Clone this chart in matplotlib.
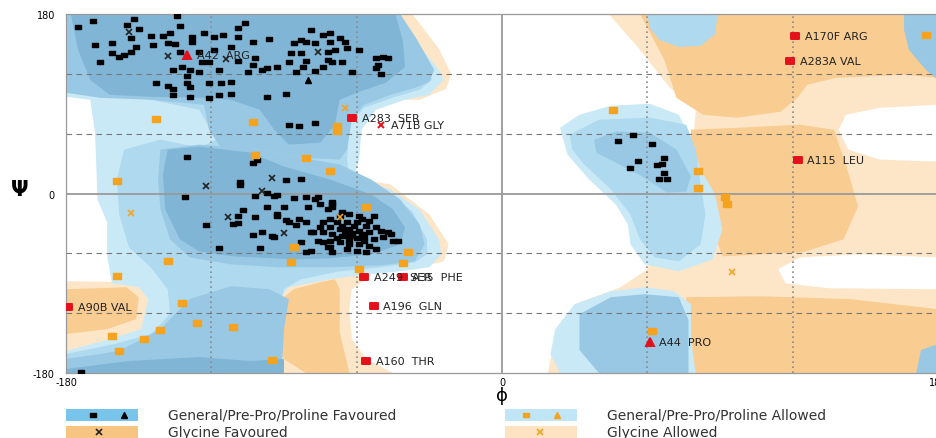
import numpy as np
import matplotlib.pyplot as plt
from matplotlib.path import Path

# ---- contour regions, (phi, psi) vertices in degrees ----
gly_allowed_right = [(44, 180), (180, 180), (180, -64), (148, -61), (123, -64), (114, -76), (117, -90),
                     (135, -95), (180, -96), (180, -180), (19, -180), (22, -141), (30, -111), (49, -94),
                     (60, -76), (65, -36), (78, 24), (80, 84), (69, 107), (57, 144)]
gly_allowed_top = [(-50, 180), (-37, 180), (-26, 145), (-21, 120), (-23, 105), (-34, 94), (-44, 94)]
gly_allowed_alpha = [(-63, 16), (-46, 9), (-30, -21), (-22, -51), (-24, -68), (-34, -74), (-42, -74)]
gly_allowed_bottom = [(-98, -101), (-83, -88), (-67, -82), (-54, -82), (-62, -96), (-63, -116),
                      (-62, -146), (-56, -166), (-45, -180), (-98, -180)]
gly_allowed_left = [(-180, -88), (-149, -89), (-145, -106), (-147, -136), (-162, -152), (-180, -169)]
empty_bay_right = [(139, 64), (142, 79), (156, 86), (180, 89), (180, 32), (156, 34), (143, 44)]

gly_fav_top = [(57, 180), (180, 180), (180, 116), (166, 119), (138, 116), (126, 109), (122, 96),
               (115, 82), (97, 76), (83, 79), (72, 96), (67, 134)]
gly_fav_mid = [(78, 64), (98, 66), (123, 69), (137, 64), (142, 29), (147, -13), (141, -46), (124, -59),
               (91, -63), (87, -36), (82, -6), (78, 34)]
gly_fav_low = [(76, -104), (107, -103), (144, -106), (180, -116), (180, -180), (78, -180)]
gly_fav_bottom = [(-86, -96), (-75, -89), (-69, -86), (-67, -96), (-67, -139), (-63, -180), (-81, -180),
                  (-90, -166), (-94, -146), (-95, -123), (-91, -106)]
gly_fav_left = [(-180, -96), (-155, -94), (-150, -104), (-151, -126), (-163, -136), (-180, -141)]

gen_allowed_outer = [(-180, 180), (-48, 180), (-38, 159), (-26, 124), (-24, 114), (-30, 99), (-40, 94),
                     (-52, 84), (-58, 64), (-59, 34), (-61, 16), (-46, 4), (-34, -16), (-26, -46),
                     (-25, -61), (-30, -74), (-42, -78), (-59, -82), (-71, -86), (-88, -94), (-92, -106),
                     (-94, -136), (-91, -180), (-180, -180), (-180, -158), (-162, -146), (-149, -136),
                     (-146, -106), (-150, -94), (-161, -90), (-163, -63), (-163, -29), (-167, -6),
                     (-168, 61), (-170, 94), (-180, 97)]
gen_allowed = [(-180, 180), (-50, 180), (-40, 159), (-30, 129), (-29, 114), (-34, 104), (-44, 97),
               (-57, 86), (-63, 69), (-64, 34), (-63, 16), (-48, 2), (-37, -18), (-31, -46), (-31, -61),
               (-36, -69), (-50, -74), (-67, -78), (-83, -86), (-90, -96), (-92, -116), (-92, -180),
               (-180, -180), (-180, -161), (-160, -151), (-145, -141), (-137, -121), (-138, -96),
               (-145, -74), (-154, -54), (-158, -21), (-159, 14), (-156, 44), (-141, 54), (-125, 46),
               (-118, 54), (-125, 84), (-145, 94), (-166, 99), (-180, 104)]
beta_mid = [(-180, 180), (-42, 180), (-35, 154), (-28, 124), (-30, 112), (-36, 106), (-46, 99),
            (-57, 89), (-62, 74), (-64, 44), (-67, 34), (-83, 36), (-100, 44), (-116, 46), (-121, 64),
            (-123, 89), (-145, 94), (-166, 96), (-180, 101)]
alpha_mid = [(-141, 44), (-125, 49), (-100, 44), (-83, 36), (-67, 29), (-54, 14), (-42, -6), (-34, -31),
             (-32, -51), (-36, -68), (-50, -72), (-71, -74), (-92, -74), (-112, -71), (-129, -64),
             (-137, -46), (-141, -16), (-142, 14)]
bottom_mid = [(-180, -166), (-158, -158), (-141, -136), (-129, -106), (-112, -93), (-96, -96),
              (-88, -106), (-90, -136), (-91, -180), (-180, -180)]
beta_fav = [(-178, 180), (-44, 180), (-41, 154), (-40, 127), (-48, 111), (-59, 102), (-67, 94),
            (-69, 69), (-75, 51), (-88, 49), (-94, 64), (-100, 84), (-112, 94), (-125, 96), (-145, 97),
            (-162, 99), (-170, 114), (-175, 144)]
alpha_fav = [(-138, 44), (-125, 47), (-104, 41), (-90, 27), (-71, 14), (-54, -1), (-45, -16), (-40, -34),
             (-42, -51), (-54, -61), (-71, -65), (-86, -66), (-111, -63), (-125, -58), (-133, -46),
             (-139, -16), (-140, 19)]
bottom_fav = [(-180, -176), (-154, -168), (-125, -164), (-104, -168), (-90, -166), (-90, -180), (-180, -180)]

alphaL_outer = [(24, 66), (32, 79), (45, 88), (61, 90), (73, 79), (78, 54), (82, 24), (88, -1), (91, -36),
                (87, -66), (73, -78), (59, -71), (53, -51), (52, -31), (47, -11), (36, 14), (27, 39)]
alphaL_mid = [(28, 59), (40, 74), (61, 76), (76, 69), (80, 44), (82, 9), (84, -21), (82, -51), (73, -68),
              (63, -64), (57, -46), (53, -21), (45, 4), (34, 29), (29, 44)]
alphaL_fav = [(38, 54), (47, 62), (61, 61), (72, 44), (78, 17), (76, 2), (68, 1), (58, 17), (47, 31), (39, 41)]
right_top_tongue = [(60, 180), (89, 180), (88, 160), (82, 148), (73, 147), (65, 154), (61, 166)]
right_top_corner = [(166, 180), (180, 180), (180, 114), (175, 124), (168, 144), (166, 164)]
right_bottom_corner = [(173, -157), (180, -151), (180, -180), (171, -180)]
right_low_outer = [(22, -136), (30, -111), (45, -98), (59, -94), (71, -98), (78, -111), (78, -146),
                   (80, -180), (24, -180), (20, -161)]
right_low_inner = [(32, -121), (45, -104), (59, -101), (73, -104), (77, -127), (77, -180), (40, -180),
                   (32, -157)]

# ---- residues ----
fav_squares = [(-134, 178), (-152, 175), (-169, 173), (-133, 168), (-155, 169), (-175, 167), (-150, 165),
               (-106, 171), (-109, 166), (-137, 161), (-145, 158), (-140, 158), (-153, 156), (-123, 161),
               (-128, 157), (-119, 157), (-115, 159), (-109, 157), (-103, 152), (-96, 155), (-79, 164),
               (-74, 159), (-71, 161), (-83, 154), (-86, 151), (-81, 152), (-77, 151), (-71, 152),
               (-67, 156), (-65, 152), (-168, 149), (-161, 151), (-151, 147), (-153, 142), (-144, 149),
               (-138, 151), (-135, 150), (-128, 152), (-119, 144), (-112, 147), (-125, 142), (-161, 141),
               (-158, 137), (-156, 139), (-133, 142), (-166, 132), (-124, 132), (-121, 132), (-109, 133),
               (-102, 136), (-103, 129), (-87, 141), (-83, 141), (-72, 142), (-69, 144), (-64, 146),
               (-59, 144), (-81, 133), (-72, 134), (-70, 132), (-66, 132), (-88, 132), (-52, 136),
               (-49, 137), (-47, 136), (-51, 129), (-52, 126), (-50, 120), (-136, 124), (-132, 127),
               (-129, 124), (-125, 122), (-130, 118), (-117, 124), (-105, 122), (-99, 124), (-97, 126),
               (-93, 127), (-85, 122), (-82, 127), (-77, 123), (-74, 127), (-62, 122), (-143, 111),
               (-138, 108), (-136, 105), (-130, 111), (-129, 107), (-121, 111), (-116, 111), (-112, 112),
               (-136, 99), (-129, 97), (-121, 96), (-117, 99), (-112, 100), (-97, 97), (-89, 100),
               (-88, 69), (-84, 68), (-77, 71),
               (-130, 37), (-101, 34), (-103, 31), (-108, 12), (-108, 9), (-89, 14), (-83, 15), (-97, 1),
               (-102, -3), (-94, -3), (-93, -2), (-86, -5), (-131, -4), (-97, -14), (-90, -14), (-107, -17),
               (-93, -21), (-93, -23), (-89, -27), (-102, -24), (-109, -23), (-111, -31), (-109, -30),
               (-122, -32), (-85, -32), (-103, -42), (-94, -44), (-117, -55), (-100, -55), (-81, -59),
               (-81, -4), (-77, -6), (-99, -39), (-95, -43), (-88, -29), (-84, -26), (-81, -29), (-83, -49),
               (-78, -39), (-74, -49), (-71, -54), (-75, -11), (-70, -11), (-72, -16), (-76, -4), (-80, -14),
               (-70, -9), (-70, -14), (-66, -19), (-67, -23), (-63, -21), (-59, -23), (-58, -26), (-55, -28),
               (-53, -23), (-71, -26), (-74, -29), (-68, -29), (-64, -29), (-60, -29), (-56, -33), (-52, -34),
               (-50, -38), (-47, -39), (-75, -34), (-71, -34), (-67, -36), (-63, -36), (-59, -38), (-55, -39),
               (-79, -39), (-74, -39), (-70, -41), (-66, -43), (-62, -43), (-57, -44), (-53, -46), (-49, -44),
               (-45, -48), (-76, -48), (-71, -48), (-67, -49), (-63, -51), (-59, -51), (-55, -53), (-52, -56),
               (-72, -54), (-64, -56), (-60, -58), (-79, -58), (-70, -59), (-56, -59), (-43, -48), (-46, -41),
               (-62, -40), (-65, -38), (-60, -45), (-58, -41), (-68, -45), (-63, -47), (-57, -48), (-61, -33),
               (-66, -33), (-64, -42), (-174, -179),
               (54, 59), (48, 53), (62, 50), (67, 36), (56, 33), (53, 26), (64, 29), (66, 30), (67, 21),
               (65, 15), (68, 15)]
fav_triangles = [(-80, 114)]
gly_fav_crosses = [(-154, 162), (-138, 138), (-114, 135), (-76, 142), (-122, 8), (-95, 16), (-99, 3),
                   (-113, -24), (-90, -40)]
allowed_squares = [(-143, 75), (-103, 72), (-68, 68), (-68, 63), (-102, 39), (-81, 36), (-71, 23), (-159, 13),
                   (-56, -14), (-86, -54), (-39, -59), (-138, -68), (-87, -69), (-41, -70), (-59, -76),
                   (-159, -83), (-132, -110), (-126, -130), (-111, -134), (-141, -137), (-148, -146),
                   (-161, -143), (-158, -158), (-95, -167), (46, 84), (175, 159), (81, 23), (81, 6), (92, -4),
                   (93, -11), (62, -138)]
gly_allowed_crosses = [(-65, 86), (-153, -20), (-67, -24), (95, -79)]

outlier_labels = ['A42  ARG', 'A283  SER', 'A71B GLY', 'A249  SER', 'A35  PHE', 'A196  GLN', 'A160  THR',
                  'A90B VAL', 'A170F ARG', 'A283A VAL', 'A115  LEU', 'A44  PRO']
outlier_phi = [-130, -62, -50, -57, -41, -53, -56, -179, 121, 119, 122, 61]
outlier_psi = [139, 76, 69, -84, -84, -113, -168, -114, 158, 133, 34, -149]
outlier_marker = ['^', 's', 'x', 's', 's', 's', 's', 's', 's', 's', 's', '^']

legend_labels = ['General/Pre-Pro/Proline Favoured', 'General/Pre-Pro/Proline Allowed',
                 'Glycine Favoured', 'Glycine Allowed']

# ---- colours ----
c_gly_allowed = '#fde6c8'
c_gly_fav = '#f9cc92'
c_l1 = '#c9e9f7'
c_l2 = '#aed9ee'
c_l3 = '#98c8e3'
c_fav = '#80b5d6'
c_orange = '#f5a21e'
c_red = '#e4101c'

rect = Path([(-1.5, -1), (1.5, -1), (1.5, 1), (-1.5, 1), (-1.5, -1)],
            [Path.MOVETO, Path.LINETO, Path.LINETO, Path.LINETO, Path.CLOSEPOLY])

fig = plt.figure(figsize=(9.36, 4.39), dpi=100)
ax = fig.add_axes([66 / 936, 1 - 374 / 439, 872 / 936, 359 / 439])

layers = [
    (gly_allowed_right, c_gly_allowed), (gly_allowed_top, c_gly_allowed), (gly_allowed_alpha, c_gly_allowed),
    (gly_allowed_bottom, c_gly_allowed), (gly_allowed_left, c_gly_allowed), (empty_bay_right, 'white'),
    (gly_fav_top, c_gly_fav), (gly_fav_mid, c_gly_fav), (gly_fav_low, c_gly_fav),
    (gly_fav_bottom, c_gly_fav), (gly_fav_left, c_gly_fav),
    (gen_allowed_outer, c_l1), (gen_allowed, c_l2), (beta_mid, c_l3), (alpha_mid, c_l3), (bottom_mid, c_l3),
    (beta_fav, c_fav), (alpha_fav, c_fav), (bottom_fav, c_fav),
    (alphaL_outer, c_l1), (alphaL_mid, c_l2), (alphaL_fav, c_l3),
    (right_top_tongue, c_l2), (right_top_corner, c_l3), (right_bottom_corner, c_l3),
    (right_low_outer, c_l1), (right_low_inner, c_l3),
]
for poly, col in layers:
    xs, ys = zip(*poly)
    ax.fill(xs, ys, color=col, lw=0, zorder=1)

# grid lines
for v in (-120, -60, 60, 120):
    ax.axvline(v, color='#8a8a8a', ls=(0, (1, 2)), lw=1.2, zorder=2)
    ax.axhline(v, color='#777777', ls=(0, (5, 4)), lw=0.8, zorder=2)
ax.axvline(0, color='#9a9a9a', lw=1.3, zorder=2)
ax.axhline(0, color='#9a9a9a', lw=1.3, zorder=2)

# residues
def pts(lst):
    a = np.array(lst, dtype=float)
    return a[:, 0], a[:, 1]

x, y = pts(fav_squares)
ax.plot(x, y, ls='none', marker=rect, ms=5, color='black', zorder=4)
x, y = pts(fav_triangles)
ax.plot(x, y, ls='none', marker='^', ms=5, color='black', zorder=4)
x, y = pts(gly_fav_crosses)
ax.plot(x, y, ls='none', marker='x', ms=4, mew=1.2, color='#222222', zorder=4)
x, y = pts(allowed_squares)
ax.plot(x, y, ls='none', marker=rect, ms=5.5, color=c_orange, zorder=4)
x, y = pts(gly_allowed_crosses)
ax.plot(x, y, ls='none', marker='x', ms=4, mew=1.2, color=c_orange, zorder=4)

for lab, p, s, m in zip(outlier_labels, outlier_phi, outlier_psi, outlier_marker):
    mk = rect if m == 's' else m
    ax.plot(p, s, ls='none', marker=mk, ms=6 if m != 'x' else 5, mew=1.4, color=c_red, zorder=5)
    ax.annotate(lab, (p, s), xytext=(7, 0), textcoords='offset points', fontsize=8,
                va='center', ha='left', color='#222222', zorder=6)

ax.set_xlim(-180, 180)
ax.set_ylim(-180, 180)
ax.set_xticks([-180, 0, 180])
ax.set_yticks([-180, 0, 180])
ax.set_xticklabels(['-180', '0', '180'], fontsize=7)
ax.set_yticklabels(['-180', '0', '180'], fontsize=7)
ax.tick_params(length=0, pad=8)
ax.tick_params(axis='x', pad=3)
for sp in ax.spines.values():
    sp.set_color('#999999')
    sp.set_linewidth(0.9)
ax.set_facecolor('white')

fig.text(20 / 936, 1 - 190 / 439, 'Ψ', fontsize=15, ha='center', va='center', weight='bold')
fig.text(502 / 936, 1 - 396 / 439, 'ϕ', fontsize=13, ha='center', va='center')

# legend drawn in figure pixel space
lax = fig.add_axes([0, 0, 1, 1], facecolor='none')
lax.set_xlim(0, 936)
lax.set_ylim(439, 0)
lax.axis('off')
sw_cols = ['#78c4ea', '#bfe5f6', '#f8c482', '#fde3c2']
sw_x = [66, 505, 66, 505]
sw_y = [416, 416, 433, 433]
txt_x = [168, 607, 168, 607]
for lab, col, sx, sy, tx in zip(legend_labels, sw_cols, sw_x, sw_y, txt_x):
    lax.add_patch(plt.Rectangle((sx, sy - 6), 72, 12, color=col, lw=0))
    lax.text(tx, sy, lab, fontsize=10, va='center', ha='left', color='#333333')
lax.plot([93], [416], marker=rect, ms=4, color='black', ls='none')
lax.plot([124], [416], marker='^', ms=5, color='black', ls='none')
lax.plot([99], [433], marker='x', ms=4, mew=1.2, color='#222222', ls='none')
lax.plot([526], [416], marker=rect, ms=4, color=c_orange, ls='none')
lax.plot([557], [416], marker='^', ms=5, color=c_orange, ls='none')
lax.plot([540], [433], marker='x', ms=4, mew=1.2, color=c_orange, ls='none')

fig.savefig('out.png', dpi=100)
